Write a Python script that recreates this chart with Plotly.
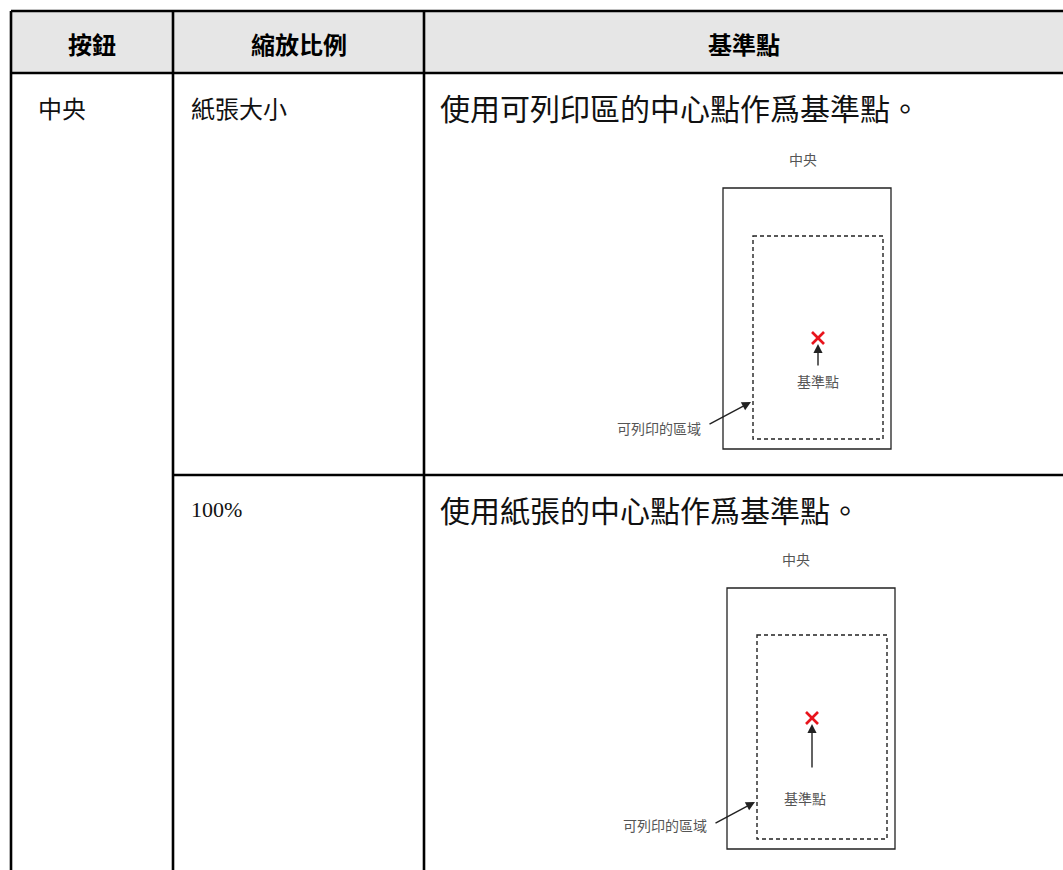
import plotly.graph_objects as go

W, H = 1063, 870

# ---- table content ----
headers = ["按鈕", "縮放比例", "基準點"]
button_label = "中央"
scale_labels = ["紙張大小", "100%"]
descriptions = ["使用可列印區的中心點作爲基準點。", "使用紙張的中心點作爲基準點。"]
diagram_title = "中央"
ref_label = "基準點"
area_label = "可列印的區域"

# ---- layout geometry (pixels) ----
col_x = [11, 173, 424, W + 20]
header_y = (11, 73)
row_sep_y = 475

CJK = "Noto Sans CJK TC, Noto Sans CJK SC, sans-serif"
SERIF = "Liberation Serif, DejaVu Serif, serif"

shapes = []
annotations = []

# header fill
shapes.append(dict(type="rect", x0=col_x[0], x1=col_x[3], y0=header_y[0], y1=header_y[1],
                   fillcolor="#e6e6e6", line=dict(width=0), layer="below"))
lw = 2.6
# horizontal lines
shapes.append(dict(type="line", x0=col_x[0], x1=col_x[3], y0=header_y[0], y1=header_y[0], line=dict(color="black", width=lw)))
shapes.append(dict(type="line", x0=col_x[0], x1=col_x[3], y0=header_y[1], y1=header_y[1], line=dict(color="black", width=lw)))
shapes.append(dict(type="line", x0=col_x[1], x1=col_x[3], y0=row_sep_y, y1=row_sep_y, line=dict(color="black", width=lw)))
# vertical lines
for cx in col_x[:3]:
    shapes.append(dict(type="line", x0=cx, x1=cx, y0=header_y[0], y1=H + 20, line=dict(color="black", width=lw)))

# header texts
for i, h in enumerate(headers):
    xc = (col_x[i] + min(col_x[i + 1], W)) / 2
    annotations.append(dict(x=xc, y=(header_y[0] + header_y[1]) / 2 + 1, text=f"<b>{h}</b>", showarrow=False,
                            font=dict(family=CJK, size=24, color="black"), xanchor="center", yanchor="middle"))

# body texts
row_tops = [header_y[1], row_sep_y]
annotations.append(dict(x=36, y=row_tops[0] + 34, text=button_label, showarrow=False,
                        font=dict(family=CJK, size=24, color="#111"), xanchor="left", yanchor="middle"))
for i, (s, d) in enumerate(zip(scale_labels, descriptions)):
    fam = SERIF if s[0].isdigit() else CJK
    annotations.append(dict(x=189, y=row_tops[i] + 34, text=s, showarrow=False,
                            font=dict(family=fam, size=24 if fam == CJK else 22, color="#111"),
                            xanchor="left", yanchor="middle"))
    annotations.append(dict(x=438, y=row_tops[i] + 34, text=d, showarrow=False,
                            font=dict(family=CJK, size=30, color="#111"),
                            xanchor="left", yanchor="middle"))

# diagrams: title, outer rect, dashed rect, X centre, arrow from/to, ref label, area label, area arrow
diagrams = [
    dict(title=(803, 159), outer=(723, 188, 891, 449), dashed=(753, 236, 883, 439), cross=(818, 338),
         arrow=((818, 367), (818, 344)), label=(818, 381), area=(703, 428), area_arrow=((708, 425), (751, 402))),
    dict(title=(796, 559), outer=(727, 588, 895, 849), dashed=(757, 635, 887, 839), cross=(812, 718),
         arrow=((812, 769), (812, 724)), label=(805, 798), area=(709, 825), area_arrow=((714, 824), (755, 802))),
]

small = dict(family=CJK, size=14, color="#555")
for d in diagrams:
    annotations.append(dict(x=d["title"][0], y=d["title"][1], text=diagram_title, showarrow=False,
                            font=small, xanchor="center", yanchor="middle"))
    x0, y0, x1, y1 = d["outer"]
    shapes.append(dict(type="rect", x0=x0, y0=y0, x1=x1, y1=y1, line=dict(color="#222", width=1.3)))
    x0, y0, x1, y1 = d["dashed"]
    shapes.append(dict(type="rect", x0=x0, y0=y0, x1=x1, y1=y1, line=dict(color="#222", width=1.4, dash="4px,3px")))
    cx, cy = d["cross"]
    r = 6
    shapes.append(dict(type="line", x0=cx - r, y0=cy - r, x1=cx + r, y1=cy + r, line=dict(color="#e8141c", width=2.6)))
    shapes.append(dict(type="line", x0=cx - r, y0=cy + r, x1=cx + r, y1=cy - r, line=dict(color="#e8141c", width=2.6)))
    (ax_, ay_), (tx, ty) = d["arrow"]
    annotations.append(dict(x=tx, y=ty, ax=ax_, ay=ay_, axref="x", ayref="y", xref="x", yref="y", text="",
                            showarrow=True, arrowhead=2, arrowsize=1.3, arrowwidth=1.4, arrowcolor="#222"))
    annotations.append(dict(x=d["label"][0], y=d["label"][1], text=ref_label, showarrow=False,
                            font=small, xanchor="center", yanchor="middle"))
    annotations.append(dict(x=d["area"][0], y=d["area"][1], text=area_label, showarrow=False,
                            font=small, xanchor="right", yanchor="middle"))
    (ax_, ay_), (tx, ty) = d["area_arrow"]
    annotations.append(dict(x=tx, y=ty, ax=ax_, ay=ay_, axref="x", ayref="y", xref="x", yref="y", text="",
                            showarrow=True, arrowhead=2, arrowsize=1.3, arrowwidth=1.4, arrowcolor="#222"))

fig = go.Figure()
fig.update_layout(
    width=W, height=H, margin=dict(l=0, r=0, t=0, b=0),
    paper_bgcolor="white", plot_bgcolor="white",
    xaxis=dict(range=[0, W], visible=False, fixedrange=True),
    yaxis=dict(range=[H, 0], visible=False, fixedrange=True),
    shapes=shapes, annotations=annotations, showlegend=False,
)
fig.write_html(
    "out.html",
    config={"displayModeBar": False},
    post_script="document.body.style.margin='0';document.body.style.overflow='hidden';",
)
